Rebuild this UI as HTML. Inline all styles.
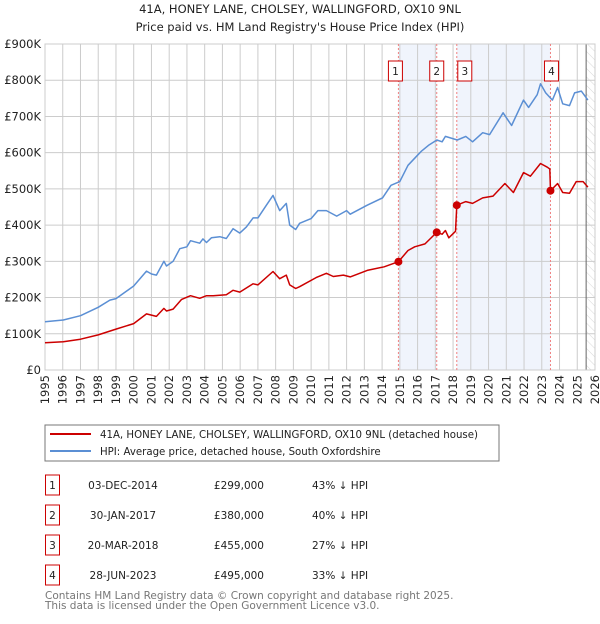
<!DOCTYPE html>
<html><head><meta charset="utf-8"><style>
body{margin:0;background:#fff;width:600px;height:620px;overflow:hidden;font-family:"DejaVu Sans","Liberation Sans",sans-serif}
svg text{font-family:"DejaVu Sans","Liberation Sans",sans-serif}
</style></head><body>
<svg id="c" width="600" height="620" viewBox="0 0 600 620">
<defs><pattern id="hatch" width="6" height="6" patternUnits="userSpaceOnUse" patternTransform="rotate(-45)"><line x1="0" y1="0" x2="0" y2="6" stroke="#d8d8d8" stroke-width="1"/></pattern></defs>
<text x="300" y="13" text-anchor="middle" font-size="11.5" fill="#222">41A, HONEY LANE, CHOLSEY, WALLINGFORD, OX10 9NL</text>
<text x="300" y="31" text-anchor="middle" font-size="11.5" fill="#222">Price paid vs. HM Land Registry's House Price Index (HPI)</text>
<g id="plot"></g>
<rect x="45" y="425" width="454" height="36" fill="#fff" stroke="#777"/>
<line x1="50" y1="434" x2="91" y2="434" stroke="#cc0000" stroke-width="2"/>
<text x="100" y="438" font-size="10.2" fill="#222">41A, HONEY LANE, CHOLSEY, WALLINGFORD, OX10 9NL (detached house)</text>
<line x1="50" y1="451" x2="91" y2="451" stroke="#5b8fd4" stroke-width="2"/>
<text x="100" y="455" font-size="10.2" fill="#222">HPI: Average price, detached house, South Oxfordshire</text>
<g id="table" font-size="10.5" fill="#222"></g>
<text x="45" y="599" font-size="10.5" fill="#777">Contains HM Land Registry data © Crown copyright and database right 2025.</text>
<text x="45" y="609" font-size="10.5" fill="#777">This data is licensed under the Open Government Licence v3.0.</text>
</svg>
<script>
const hpiYears=[1995.0,1996.03,1997.0,1998.0,1998.66,1999.0,2000.0,2000.72,2001.0,2001.28,2001.7,2001.85,2002.22,2002.6,2003.0,2003.2,2003.72,2003.9,2004.1,2004.38,2004.85,2005.22,2005.6,2005.98,2006.35,2006.73,2007.0,2007.48,2007.85,2008.23,2008.6,2008.79,2009.13,2009.35,2010.0,2010.38,2010.86,2011.44,2012.0,2012.2,2013.16,2014.02,2014.5,2015.0,2015.46,2015.94,2016.23,2016.61,2017.09,2017.38,2017.57,2018.24,2018.72,2019.1,2019.67,2020.06,2020.82,2021.3,2021.97,2022.26,2022.74,2022.93,2023.22,2023.6,2023.89,2024.18,2024.56,2024.85,2025.23,2025.6];
const hpiValues=[133,138,150,173,193,197,232,273,265,262,300,287,300,335,340,357,350,362,352,365,368,363,390,378,395,420,420,455,482,440,460,400,388,405,418,440,440,425,440,430,455,475,510,520,565,590,605,620,635,630,645,635,645,630,655,650,710,675,745,725,760,790,765,745,780,735,730,765,770,745];
const ppYears=[1995.0,1996.03,1997.0,1998.0,1999.0,2000.0,2000.72,2001.28,2001.7,2001.85,2002.22,2002.7,2003.2,2003.72,2004.1,2004.48,2005.22,2005.6,2005.98,2006.73,2007.0,2007.85,2008.23,2008.6,2008.79,2009.13,2009.35,2010.28,2010.86,2011.25,2011.82,2012.2,2013.16,2014.12,2014.92,2015.46,2015.84,2016.42,2017.08,2017.38,2017.57,2017.76,2018.14,2018.21,2018.72,2019.1,2019.67,2020.25,2020.92,2021.4,2021.97,2022.36,2022.93,2023.31,2023.45,2023.49,2023.89,2024.18,2024.56,2024.94,2025.33,2025.6];
const ppValues=[75,78,85,97,113,128,155,148,170,163,168,195,205,198,205,205,208,220,215,238,235,272,252,262,235,225,230,255,267,258,262,257,275,285,299,330,340,348,380,375,385,365,383,455,465,460,475,480,515,490,545,535,570,560,555,495,515,490,488,520,520,505];
const saleYears=[2014.92,2017.08,2018.21,2023.49];
const saleValues=[299,380,455,495];
const saleLabels=["1","2","3","4"];
const saleDates=["03-DEC-2014","30-JAN-2017","20-MAR-2018","28-JUN-2023"];
const salePrices=["£299,000","£380,000","£455,000","£495,000"];
const saleHpi=["43% ↓ HPI","40% ↓ HPI","27% ↓ HPI","33% ↓ HPI"];
const yTicks=[0,100,200,300,400,500,600,700,800,900];
const yTickLabels=["£0","£100K","£200K","£300K","£400K","£500K","£600K","£700K","£800K","£900K"];
const xTicks=[1995,1996,1997,1998,1999,2000,2001,2002,2003,2004,2005,2006,2007,2008,2009,2010,2011,2012,2013,2014,2015,2016,2017,2018,2019,2020,2021,2022,2023,2024,2025,2026];
const X0=45,X1=595,Y0=370,Y1=44;
const xs=y=>X0+(y-1995)/(2026-1995)*(X1-X0);
const ys=v=>Y0-v/900*(Y0-Y1);
const NS="http://www.w3.org/2000/svg";
const plot=document.getElementById('plot');
function mk(tag,attrs,parent){const e=document.createElementNS(NS,tag);for(const k in attrs)e.setAttribute(k,attrs[k]);(parent||plot).appendChild(e);return e;}
let e;
e=mk('rect',{x:X0,y:Y1,width:X1-X0,height:Y0-Y1,fill:'#fff'});


e=mk('rect',{x:xs(saleYears[0]),y:Y1,width:xs(saleYears[1])-xs(saleYears[0]),height:Y0-Y1,fill:'#f0f4fc'});


e=mk('rect',{x:xs(saleYears[2]),y:Y1,width:xs(saleYears[3])-xs(saleYears[2]),height:Y0-Y1,fill:'#f0f4fc'});


e=mk('rect',{x:xs(2025.5),y:Y1,width:X1-xs(2025.5),height:Y0-Y1,fill:'url(#hatch)'});


yTicks.forEach((t,i)=>{
 e=mk('line',{x1:X0,x2:X1,y1:ys(t),y2:ys(t),stroke:'#ccc','stroke-width':1});
 
 
 e=mk('text',{x:X0-4,y:ys(t)+4,'text-anchor':'end','font-size':'11.5',fill:'#222'});
 e.textContent=yTickLabels[i];
 
 
});
xTicks.forEach(t=>{
 e=mk('line',{x1:xs(t),x2:xs(t),y1:Y1,y2:Y0,stroke:'#ccc','stroke-width':1});
 
 
 e=mk('text',{x:0,y:0,'text-anchor':'end','font-size':'11.5',fill:'#222',transform:`translate(${xs(t)+4},${Y0+5}) rotate(-90)`});
 e.textContent=t;
 
 
});
e=mk('line',{x1:xs(2025.5),x2:xs(2025.5),y1:Y1,y2:Y0,stroke:'#666','stroke-width':1});


e=mk('rect',{x:X0,y:Y1,width:X1-X0,height:Y0-Y1,fill:'none',stroke:'#ccc'});


saleYears.forEach((s,i)=>{
 e=mk('line',{x1:xs(s),x2:xs(s),y1:Y1,y2:Y0,stroke:'#f08080','stroke-width':1,'stroke-dasharray':'2,2'});
 
 
});
const pts=(xa,va)=>xa.map((y,i)=>xs(y).toFixed(1)+','+ys(va[i]).toFixed(1)).join(' ');
e=mk('polyline',{points:pts(hpiYears,hpiValues),fill:'none',stroke:'#5b8fd4','stroke-width':1.5,'stroke-linejoin':'round'});


e=mk('polyline',{points:pts(ppYears,ppValues),fill:'none',stroke:'#cc0000','stroke-width':1.5,'stroke-linejoin':'round'});


saleYears.forEach((s,i)=>{
 e=mk('circle',{cx:xs(s),cy:ys(saleValues[i]),r:4,fill:'#cc0000'});
 
 
 e=mk('rect',{x:xs(s)-(i==0?10:i==2?-1:i==3?6:7),y:61,width:14,height:20,fill:'#fff',stroke:'#cc0000'});
 
 
 e=mk('text',{x:xs(s)-(i==0?3:i==2?-8:i==3?-1:0),y:75,'text-anchor':'middle','font-size':'10.5',fill:'#222'});
 e.textContent=saleLabels[i];
 
 
});
const tbl=document.getElementById('table');
saleLabels.forEach((l,i)=>{
 const cy=485+i*30;
 e=mk('rect',{x:45.5,y:cy-10,width:14,height:20,fill:'#fff',stroke:'#cc0000'},tbl);
 
 
 e=mk('text',{x:52.5,y:cy+4,'text-anchor':'middle'},tbl);e.textContent=l;
 
 
 e=mk('text',{x:123,y:cy+4,'text-anchor':'middle'},tbl);e.textContent=saleDates[i];
 
 
 e=mk('text',{x:264,y:cy+4,'text-anchor':'end'},tbl);e.textContent=salePrices[i];
 
 
 e=mk('text',{x:312,y:cy+4},tbl);e.textContent=saleHpi[i];
 
 
});
</script>
</body></html>
